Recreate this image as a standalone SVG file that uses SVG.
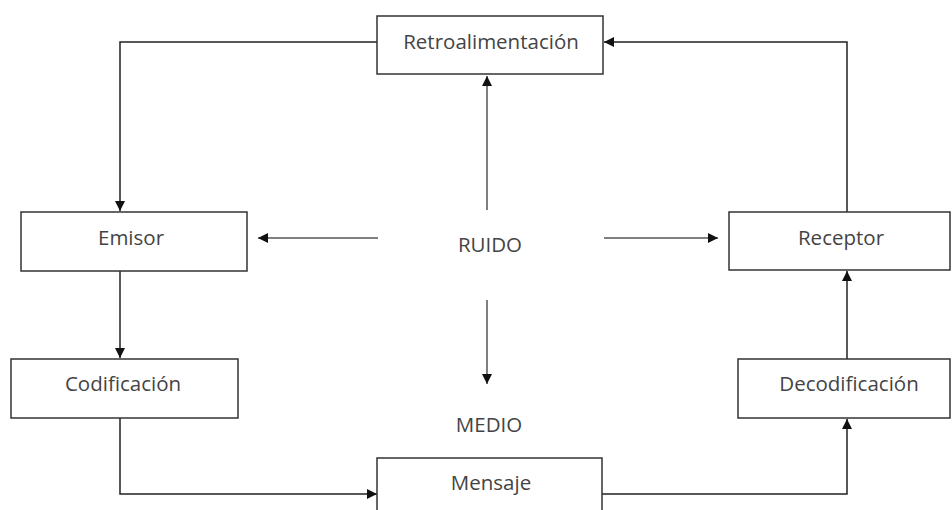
<svg xmlns="http://www.w3.org/2000/svg" width="952" height="510" viewBox="0 0 952 510">
<style>
.box{fill:#fff;stroke:#333;stroke-width:1.5}
.lbl{font-family:"Open Sans","Liberation Sans",sans-serif;font-size:20.5px;fill:#444;text-anchor:middle;dominant-baseline:central}
.ln{fill:none;stroke:#222;stroke-width:1.5}
.nz{fill:none;stroke:#555;stroke-width:1.5}
</style>
<defs>
<marker id="ah" viewBox="0 0 10 10" refX="10" refY="5" markerWidth="10" markerHeight="10" markerUnits="userSpaceOnUse" orient="auto">
<path d="M0,0 L10,5 L0,10 z" fill="#111"/>
</marker>
</defs>
<rect width="952" height="510" fill="#fff"/>
<g id="connectors">
<path class="ln" d="M377,42 H120 V211" marker-end="url(#ah)"/>
<path class="ln" d="M847,212 V42 H604" marker-end="url(#ah)"/>
<path class="ln" d="M120,271 V358" marker-end="url(#ah)"/>
<path class="ln" d="M120,418 V494 H377" marker-end="url(#ah)"/>
<path class="ln" d="M602,494 H847 V419" marker-end="url(#ah)"/>
<path class="ln" d="M847,359 V271" marker-end="url(#ah)"/>
<path class="nz" d="M378,238 H258" marker-end="url(#ah)"/>
<path class="nz" d="M604,238 H718" marker-end="url(#ah)"/>
<path class="nz" d="M487,210 V76" marker-end="url(#ah)"/>
<path class="nz" d="M487,300 V384" marker-end="url(#ah)"/>
</g>
<g id="retroalimentacion">
<rect class="box" x="377" y="16" width="226" height="58"/>
<text class="lbl" x="491" y="41">Retroalimentación</text>
</g>
<g id="emisor">
<rect class="box" x="21" y="212" width="226" height="59"/>
<text class="lbl" x="131" y="237">Emisor</text>
</g>
<g id="receptor">
<rect class="box" x="729" y="212" width="221" height="58"/>
<text class="lbl" x="841" y="237">Receptor</text>
</g>
<g id="codificacion">
<rect class="box" x="11" y="359" width="227" height="59"/>
<text class="lbl" x="123" y="383">Codificación</text>
</g>
<g id="decodificacion">
<rect class="box" x="738" y="359" width="212" height="59"/>
<text class="lbl" x="849" y="383">Decodificación</text>
</g>
<g id="mensaje">
<rect class="box" x="377" y="458" width="225" height="60"/>
<text class="lbl" x="491" y="482">Mensaje</text>
</g>
<g id="ruido">
<text class="lbl" x="490" y="244">RUIDO</text>
</g>
<g id="medio">
<text class="lbl" x="489" y="424">MEDIO</text>
</g>
</svg>
